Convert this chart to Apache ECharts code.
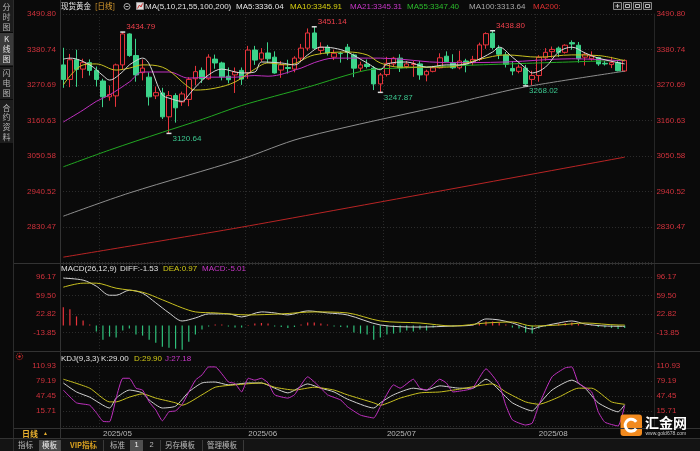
<!DOCTYPE html>
<html><head><meta charset="utf-8">
<script src="https://cdn.jsdelivr.net/npm/echarts@6/dist/echarts.min.js"></script>
<style>html,body{margin:0;padding:0;background:#0a0a0a;}#c{width:700px;height:451px;}</style>
</head><body><div id="c"></div>
<script>
// ---------------- data ----------------
const dates = ['2025/04/23','2025/04/24','2025/04/25','2025/04/28','2025/04/29','2025/04/30',
'2025/05/01','2025/05/02','2025/05/05','2025/05/06','2025/05/07','2025/05/08','2025/05/09','2025/05/12','2025/05/13','2025/05/14','2025/05/15','2025/05/16','2025/05/19','2025/05/20','2025/05/21','2025/05/22','2025/05/23','2025/05/26','2025/05/27','2025/05/28','2025/05/29','2025/05/30',
'2025/06/02','2025/06/03','2025/06/04','2025/06/05','2025/06/06','2025/06/09','2025/06/10','2025/06/11','2025/06/12','2025/06/13','2025/06/16','2025/06/17','2025/06/18','2025/06/19','2025/06/20','2025/06/23','2025/06/24','2025/06/25','2025/06/26','2025/06/27','2025/06/30',
'2025/07/01','2025/07/02','2025/07/03','2025/07/04','2025/07/07','2025/07/08','2025/07/09','2025/07/10','2025/07/11','2025/07/14','2025/07/15','2025/07/16','2025/07/17','2025/07/18','2025/07/21','2025/07/22','2025/07/23','2025/07/24','2025/07/25','2025/07/28','2025/07/29','2025/07/30','2025/07/31',
'2025/08/01','2025/08/04','2025/08/05','2025/08/06','2025/08/07','2025/08/08','2025/08/11','2025/08/12','2025/08/13','2025/08/14','2025/08/15','2025/08/18','2025/08/19','2025/08/20'];
const opens = [3333,3288,3349,3320,3340,3316,
3283,3234,3237,3333,3429,3362,3309,3295,3237,3246,3172,3238,3218,3226,3290,3316,3290,3351,3339,3298,3302,3316,
3308,3379,3351,3370,3357,3317,3325,3320,3354,3385,3432,3378,3388,3357,3369,3388,3364,3323,3335,3323,3274,
3303,3336,3354,3328,3334,3336,3302,3313,3324,3360,3339,3324,3345,3340,3350,3395,3431,3385,3364,3322,3313,3323,3288,
3300,3355,3374,3385,3372,3402,3394,3357,3352,3356,3338,3334,3340,3314];
const closes = [3288,3349,3319,3340,3316,3288,
3234,3241,3333,3429,3362,3302,3323,3234,3247,3172,3238,3200,3243,3288,3312,3290,3357,3339,3296,3287,3311,3289,
3379,3348,3370,3352,3308,3333,3322,3354,3385,3432,3385,3388,3370,3369,3368,3372,3323,3333,3328,3274,3302,
3338,3354,3324,3336,3337,3302,3313,3324,3355,3343,3324,3345,3336,3350,3395,3430,3387,3366,3335,3314,3326,3274,3300,
3357,3372,3381,3372,3394,3398,3352,3366,3360,3336,3336,3340,3315,3347];
const lows = [3262,3264,3265,3292,3300,3266,
3202,3222,3203,3318,3358,3281,3285,3207,3227,3165,3120.64,3154,3206,3205,3270,3277,3287,3321,3285,3276,3246,3271,
3290,3333,3343,3339,3306,3293,3306,3310,3342,3377,3382,3366,3362,3348,3340,3348,3295,3312,3322,3255,3247.87,
3297,3329,3311,3322,3296,3287,3282,3310,3322,3341,3320,3319,3310,3332,3345,3383,3381,3351,3325,3301,3307,3268.02,3270,
3281,3346,3355,3358,3368,3380,3340,3331,3346,3330,3331,3323,3313,3311];
const highs = [3386,3367,3380,3352,3350,3328,
3290,3269,3337,3434.79,3431,3414,3350,3310,3266,3262,3252,3245,3250,3295,3330,3325,3366,3365,3343,3325,3325,3325,
3392,3392,3385,3403,3375,3345,3349,3360,3398,3446,3451.14,3403,3395,3380,3374,3398,3368,3343,3350,3329,3308,
3358,3358,3366,3345,3345,3345,3318,3330,3369,3375,3366,3377,3352,3361,3402,3434,3438.80,3394,3373,3345,3334,3333,3315,
3363,3385,3390,3390,3397,3409,3404,3372,3375,3358,3345,3358,3345,3350];
const peakIdx = [9, 38, 65];
const troughIdx = [16, 48, 70];

// moving averages: [candle index, value]
const ma5 = [[0,3351],[1,3354],[4,3333],[6,3300],[7,3286],[9,3312],[10,3333],[12,3354],[15,3240],[16,3230],[18,3220],[19,3240],[20,3264],[22,3302],[24,3320],[27,3308],[29,3311],[30,3342],[33,3339],[35,3333],[37,3364],[39,3388],[41,3385],[43,3373],[46,3339],[48,3318],[49,3336],[52,3342],[55,3326],[58,3333],[60,3333],[62,3342],[65,3373],[66,3388],[68,3357],[70,3323],[71,3308],[73,3326],[75,3373],[77,3388],[79,3370],[81,3354],[84,3340],[85,3336.04]];
const ma10 = [[0,3271],[3,3333],[5,3336],[8,3317],[10,3323],[12,3333],[15,3326],[19,3264],[20,3255],[23,3261],[26,3280],[29,3320],[31,3339],[34,3333],[38,3364],[43,3373],[46,3364],[48,3339],[51,3326],[58,3326],[63,3350],[67,3364],[72,3357],[77,3364],[81,3362],[85,3345.91]];
const ma21 = [[0,3156],[3,3193],[5,3220],[7,3240],[10,3280],[12,3311],[16,3311],[19,3292],[22,3295],[26,3295],[29,3300],[31,3298],[36,3323],[38,3340],[41,3354],[48,3354],[58,3340],[67,3342],[77,3352],[85,3345.31]];
const ma55 = [[0,3017],[7,3069],[15,3124],[21,3164],[27,3207],[37,3264],[46,3317],[51,3323],[63,3333],[85,3347.40]];
const ma100 = [[0,2864],[10,2936],[27,3041],[36,3106],[60,3218],[63,3233],[70,3265],[85,3313.64]];
const ma200 = [[0,2737],[27,2830],[85,3047]];

// MACD
const macdHist = [36,32,18,10,2,-12,-28,-22,-24,-10,-6,-18,-20,-28,-34,-42,-44,-46,-48,-32,-18,-8,-2,2,2,-2,-4,-4,1,4,5,4,-2,-3,-5,-3,2,6,6,4,2,-2,-3,-4,-14,-16,-18,-28,-24,-18,-16,-14,-10,-12,-8,-10,-4,-2,0.5,-2,0.5,0.5,2,6,8,8,6,2,-4,-6,-14,-16,-6,-2,2,4,5,6,3,1,1,-3,-4,-5,-7,-5.01];
const diff = [[0,94],[3,90],[5,78],[7,60],[8,60],[10,70],[12,64],[14,45],[16,25],[18,9],[20,15],[22,23],[25,23],[27,17],[30,27],[32,25],[34,21],[37,29],[40,25],[43,21],[48,1],[54,-3],[59,-1],[62,1],[64,13],[66,11],[68,5],[71,-7],[72,-3],[75,5],[77,9],[79,3],[82,-1],[85,-1.53]];
const dea = [[0,76],[3,84],[5,84],[8,74],[12,66],[15,51],[18,35],[20,27],[23,25],[28,21],[33,23],[38,27],[43,25],[48,9],[54,5],[59,-1],[64,5],[68,7],[71,-1],[75,1],[79,5],[84,1],[85,0.97]];

// KDJ
const kLine = [[0,75],[2,56],[4,45],[7,22],[8,43],[10,60],[12,54],[13,39],[15,22],[17,26],[19,56],[21,75],[23,77],[25,71],[28,75],[30,75],[32,64],[34,54],[37,73],[39,64],[41,56],[43,41],[47,22],[48,33],[50,50],[53,64],[55,60],[57,69],[60,64],[62,64],[64,83],[66,60],[68,33],[71,16],[72,30],[74,60],[77,81],[79,64],[81,33],[84,14],[85,29.00]];
const dLine = [[0,83],[4,64],[7,35],[8,35],[10,45],[12,52],[14,43],[17,33],[18,28],[21,50],[23,66],[26,71],[30,75],[32,66],[35,60],[38,66],[41,60],[43,50],[47,33],[48,28],[51,43],[54,54],[57,56],[60,62],[65,73],[67,56],[70,35],[72,30],[75,45],[78,64],[80,64],[83,35],[85,29.90]];
const jLine = [[0,60],[2,33],[4,28],[5,12],[6,-6],[7,-7],[8,43],[9,85],[10,85],[11,64],[12,60],[13,35],[14,18],[15,-5],[16,14],[17,16],[18,30],[20,81],[21,92],[22,109],[23,109],[25,77],[26,74],[27,56],[28,85],[29,81],[30,85],[31,75],[32,50],[34,43],[35,50],[37,88],[39,64],[40,50],[42,39],[43,25],[45,7],[47,1],[48,25],[50,71],[51,64],[53,83],[54,64],[55,60],[57,83],[58,75],[59,56],[61,60],[62,64],[64,105],[66,71],[67,28],[68,-3],[70,-14],[71,-10],[72,28],[74,88],[76,107],[77,109],[78,75],[80,56],[81,14],[82,-8],[84,-16],[85,27.18]];

// tick labels
const mainTicks = ['3490.80','3380.74','3270.69','3160.63','3050.58','2940.52','2830.47'];
const macdTicks = ['96.17','59.50','22.82','-13.85'];
const kdjTicks = ['110.93','79.19','47.45','15.71'];

// ---------------- layout ----------------
const FONT = '"Liberation Sans", Arial, "Noto Sans CJK SC", sans-serif';
const CJK = '"Noto Sans CJK SC", "Liberation Sans", sans-serif';
const BG = '#0a0a0a';
const UP = '#e8343c', DOWN = '#3cd38a';
const AXIS_RED = '#d0323c';
const emptySlots = 4;
const cats = dates.concat(new Array(emptySlots).fill(''));
const GL = 60, GR = 45.6;

function isMonthStart(i){ return i > 0 && i < dates.length && dates[i].slice(5,7) !== dates[i-1].slice(5,7); }

function tickAxis(ticks, padBottom, padTop){
  const nums = ticks.map(Number);
  const tmax = Math.max(...nums), tmin = Math.min(...nums);
  const iv = (tmax - tmin) / (nums.length - 1);
  return {
    min: tmin - iv * padBottom, max: tmax + iv * padTop, interval: iv,
    fmt: v => { for (let k = 0; k < nums.length; k++) if (Math.abs(v - nums[k]) < iv * 0.02) return ticks[k]; return ''; }
  };
}
const axMain = tickAxis(mainTicks, 1, 0);
const axMacd = tickAxis(macdTicks, 1, 0.703);
const axKdj = tickAxis(kdjTicks, 1, 1);

function yAxes(ax, gi){
  const base = {type:'value', gridIndex: gi, min: ax.min, max: ax.max, interval: ax.interval,
    axisTick:{show:false},
    splitLine:{show:true, lineStyle:{color:'#2c2c2c', type:[1,2], width:1}}};
  return [
    Object.assign({}, base, {position:'left', axisLine:{show:true, lineStyle:{color:'#343434'}},
      axisLabel:{show:true, color:AXIS_RED, fontSize:8, fontFamily:FONT, margin:4, formatter: ax.fmt, hideOverlap:false}}),
    Object.assign({}, base, {position:'right', axisLine:{show:true, lineStyle:{color:'#262626'}}, splitLine:{show:false},
      axisLabel:{show:true, color:AXIS_RED, fontSize:8, fontFamily:FONT, margin:2, align:'left', formatter: ax.fmt, hideOverlap:false}})
  ];
}
function xAxis(gi, showLabel){
  return {type:'category', gridIndex: gi, data: cats, boundaryGap:true,
    axisLine:{show:false}, axisTick:{show:false},
    splitLine:{show:true, interval:(i)=>isMonthStart(i), lineStyle:{color:'#2a2a2a', type:[1,2]}},
    axisLabel:{show: showLabel, interval:(i)=>isMonthStart(i), formatter:(v)=>v.slice(0,7),
      color:'#b8b8b8', fontSize:8, fontFamily:FONT, align:'left', margin:4}};
}

function lineSeries(name, data, color, xi, yi, smooth, extra){
  return Object.assign({name, type:'line', data, xAxisIndex:xi, yAxisIndex:yi, showSymbol:false, symbol:'none',
    smooth: smooth, lineStyle:{color, width:1}, itemStyle:{color}, silent:true, z:3}, extra || {});
}

const ohlc = dates.map((d,i)=>[opens[i], closes[i], lows[i], highs[i]]);
const markData = [];
peakIdx.forEach(i => markData.push({coord:[dates[i], highs[i]], value: highs[i],
  label:{color:'#f0404c', offset:[1,-5]}}));
troughIdx.forEach(i => markData.push({coord:[dates[i], lows[i]], value: lows[i],
  label:{color:'#3cc890', offset:[1,5]}}));

// ---------------- graphics ----------------
const G = [];
function txt(x,y,text,fill,size,opts){ G.push(Object.assign({type:'text', x, y, silent:true, z:50,
  style:Object.assign({text, fill, fontSize:size, fontFamily:FONT, align:'left', verticalAlign:'middle'}, (opts||{}).style||{})},
  (opts||{}).el||{})); }
function ln(x1,y1,x2,y2,stroke,w,dash){ G.push({type:'line', silent:true, z:40, shape:{x1,y1,x2,y2}, style:{stroke, lineWidth:w||1, lineDash:dash||null}}); }
function rc(x,y,w,h,fill,stroke,r){ G.push({type:'rect', silent:true, z:39, shape:{x,y,width:w,height:h,r:r||0}, style:{fill:fill||'none', stroke:stroke||null, lineWidth:1}}); }

// left tab strip
rc(0,0,13,143,'#1d1d1d');
rc(0,33,13,32,'#3a3a3a');
ln(0,32.5,13,32.5,'#0a0a0a'); ln(0,66.5,13,66.5,'#0a0a0a'); ln(0,99.5,13,99.5,'#0a0a0a');
ln(13.5,0,13.5,451,'#2c2c2c');
txt(6.5,2,'分\n时\n图','#b4b4b4',8,{style:{fontFamily:CJK, align:'center', verticalAlign:'top', lineHeight:10}});
txt(6.5,34,'K\n线\n图','#e0e0e0',8,{style:{fontFamily:CJK, align:'center', verticalAlign:'top', lineHeight:10}});
txt(6.5,68,'闪\n电\n图','#b4b4b4',8,{style:{fontFamily:CJK, align:'center', verticalAlign:'top', lineHeight:10}});
txt(6.5,103,'合\n约\n资\n料','#b4b4b4',8,{style:{fontFamily:CJK, align:'center', verticalAlign:'top', lineHeight:9.6}});

// panel frame lines
ln(60.5,0,60.5,438,'#333333');
ln(14,263.5,700,263.5,'#333333');
ln(14,351.5,700,351.5,'#333333');
ln(14,428.5,700,428.5,'#333333');
rc(0,439,700,12,'#141414');
ln(0,438.5,700,438.5,'#333333');

// header
txt(61,6.5,'现货黄金','#e6e6e6',7.5,{style:{fontFamily:CJK}});
txt(95,6.5,'[日线]','#e0a030',7.5,{style:{fontFamily:CJK}});
G.push({type:'circle', silent:true, z:45, shape:{cx:127,cy:6.5,r:3}, style:{fill:'none', stroke:'#b0b0b0', lineWidth:1}});
ln(125.5,6.5,128.5,6.5,'#b0b0b0');
rc(136.5,2.5,7,7,'#dcdcdc','#9a9a9a');
G.push({type:'polyline', silent:true, z:46, shape:{points:[[137.5,8.5],[139.5,5],[141,7],[142.5,3.5]]}, style:{stroke:'#d03030', fill:'none', lineWidth:1}});
txt(145,6.5,'MA(5,10,21,55,100,200)','#e0e0e0',8);
txt(236,6.5,'MA5:3336.04','#e6e6e6',8);
txt(290,6.5,'MA10:3345.91','#d8d010',8);
txt(350,6.5,'MA21:3345.31','#c838c8',8);
txt(407,6.5,'MA55:3347.40','#2cbc2c',8);
txt(469,6.5,'MA100:3313.64','#a8a8a8',8);
txt(533,6.5,'MA200:','#e03030',8);
[613,623,633,643].forEach((x,k)=>{ rc(x+0.5,2.5,8,7,'#1a1a1a','#8a8a8a');
  if(k===0){ ln(x+2.5,6,x+6.5,6,'#bbbbbb'); ln(x+4.5,4,x+4.5,8,'#bbbbbb'); }
  else { rc(x+2.5,4.5,4,3,null,'#bbbbbb'); } });

// MACD title
txt(61,269,'MACD(26,12,9)','#e0e0e0',8);
txt(120,269,'DIFF:-1.53','#e0e0e0',8);
txt(163,269,'DEA:0.97','#d0c818',8);
txt(202,269,'MACD:-5.01','#c838c8',8);

// KDJ title + icon
G.push({type:'circle', silent:true, z:45, shape:{cx:19.5,cy:356.5,r:3.2}, style:{fill:'none', stroke:'#e03030', lineWidth:1, lineDash:[1,1]}});
G.push({type:'circle', silent:true, z:45, shape:{cx:19.5,cy:356.5,r:1.2}, style:{fill:'#e03030'}});
txt(61,359,'KDJ(9,3,3)','#e0e0e0',8);
txt(101,359,'K:29.00','#e0e0e0',8);
txt(134,359,'D:29.90','#d0c818',8);
txt(165,359,'J:27.18','#c838c8',8);

// x label row left cell
txt(22,434,'日线','#e8b030',8,{style:{fontFamily:CJK, fontWeight:'bold'}});
txt(43,433.5,'▲','#e8b030',5);

// toolbar
txt(18,445,'指标','#b8b8b8',7.5,{style:{fontFamily:CJK}});
rc(39,440,22,11,'#484848');
txt(42,445,'模板','#f0f0f0',7.5,{style:{fontFamily:CJK}});
txt(70,445,'VIP指标','#d8a020',7.5,{style:{fontFamily:CJK, fontWeight:'bold'}});
ln(103.5,440,103.5,451,'#3a3a3a');
txt(110,445,'标准','#b8b8b8',7.5,{style:{fontFamily:CJK}});
rc(130,440,13,11,'#505050');
txt(136.5,445,'1','#f0f0f0',7.5,{style:{align:'center'}});
txt(151.5,445,'2','#b8b8b8',7.5,{style:{align:'center'}});
ln(160.5,440,160.5,451,'#3a3a3a');
txt(165,445,'另存模板','#b8b8b8',7.5,{style:{fontFamily:CJK}});
ln(202.5,440,202.5,451,'#3a3a3a');
txt(207,445,'管理模板','#b8b8b8',7.5,{style:{fontFamily:CJK}});
ln(243.5,440,243.5,451,'#3a3a3a');

// logo
rc(620.5,414.5,21.5,21.5,'#f28a1e',null,3);
G.push({type:'arc', silent:true, z:47, shape:{cx:631.2,cy:425.2,r:6,startAngle:0.6,endAngle:-0.6+Math.PI*2,clockwise:true}, style:{stroke:'#ffffff', lineWidth:3, fill:'none'}});
G.push({type:'circle', silent:true, z:47, shape:{cx:632.5,cy:425.2,r:2.6}, style:{fill:'#f28a1e'}});
txt(645,423,'汇金网','#ffffff',14,{style:{fontFamily:CJK, fontWeight:'bold'}});
txt(645.5,434,'www.gold678.com','#c8c8c8',5);

// ---------------- option ----------------
const option = {
  backgroundColor: BG,
  animation: false,
  textStyle:{fontFamily: FONT},
  grid: [
    {left:GL, right:GR, top:14, height:248.5},
    {left:GL, right:GR, top:264, height:87},
    {left:GL, right:GR, top:351, height:75}
  ],
  xAxis: [xAxis(0,false), xAxis(1,false), xAxis(2,true)],
  yAxis: [].concat(yAxes(axMain,0), yAxes(axMacd,1), yAxes(axKdj,2)),
  series: [
    {name:'K', type:'candlestick', xAxisIndex:0, yAxisIndex:0, data: ohlc, barWidth:5, z:2,
      itemStyle:{color: BG, color0: DOWN, borderColor: UP, borderColor0: DOWN, borderWidth:1},
      markPoint:{symbol:'rect', symbolSize:[5,1.5], itemStyle:{color:'#e0e0e0'}, silent:true,
        label:{show:true, position:'right', distance:0, fontSize:8, fontFamily:FONT, formatter:(p)=>Number(p.value).toFixed(2)},
        data: markData}},
    lineSeries('MA200', ma200, '#b82424', 0, 0, 0.2),
    lineSeries('MA100', ma100, '#8e8e8e', 0, 0, 0.3),
    lineSeries('MA55', ma55, '#22a822', 0, 0, 0.3),
    lineSeries('MA21', ma21, '#c030c0', 0, 0, 0.35),
    lineSeries('MA10', ma10, '#c8c020', 0, 0, 0.35),
    lineSeries('MA5', ma5, '#d8d8d8', 0, 0, 0.35),
    {name:'MACD', type:'bar', xAxisIndex:1, yAxisIndex:2, data: macdHist, barWidth:1.2, silent:true,
      itemStyle:{color:(p)=> p.value >= 0 ? UP : '#2fbf7a'}},
    lineSeries('DIFF', diff, '#d0d0d0', 1, 2, 0.3),
    lineSeries('DEA', dea, '#c8c020', 1, 2, 0.3),
    lineSeries('Kv', kLine, '#d0d0d0', 2, 4, 0.2, {clip:false}),
    lineSeries('Dv', dLine, '#c8c020', 2, 4, 0.2, {clip:false}),
    lineSeries('Jv', jLine, '#c030c0', 2, 4, 0.15, {clip:false})
  ],
  graphic: G
};
const chart = echarts.init(document.getElementById('c'), null, {width:700, height:451});
chart.setOption(option);
</script>
</body></html>
